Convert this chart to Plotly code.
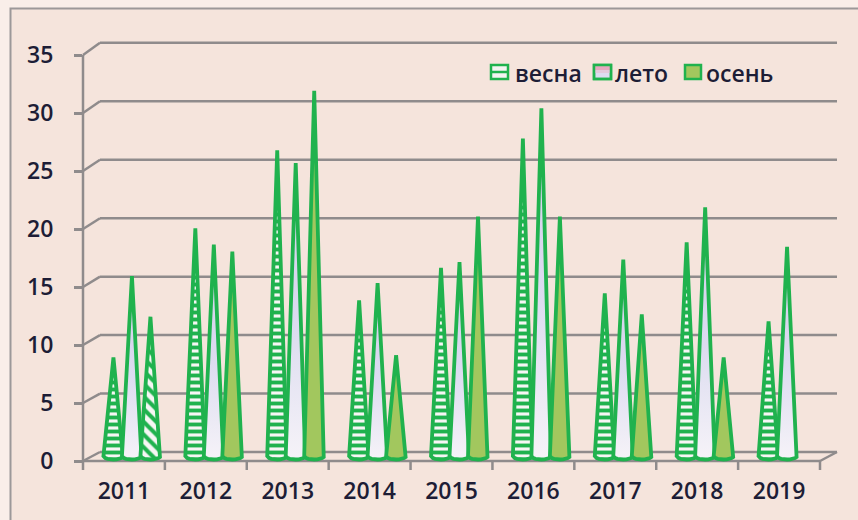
import numpy as np
import plotly.graph_objects as go

# ---- data ---------------------------------------------------------------
years = ["2011", "2012", "2013", "2014", "2015", "2016", "2017", "2018", "2019"]
vesna = [8.5, 19.6, 26.3, 13.4, 16.2, 27.3, 14.0, 18.4, 11.6]
leto = [15.5, 18.2, 25.2, 14.9, 16.7, 29.9, 16.9, 21.4, 18.0]
osen = [12.0, 17.6, 31.4, 8.7, 20.6, 20.6, 12.2, 8.5, None]
series_names = ["весна", "лето", "осень"]
y_ticks = [0, 5, 10, 15, 20, 25, 30, 35]

# ---- geometry of the pseudo-3D frame (pixels) ---------------------------
W, H = 858, 520
L, R, T, B = 83, 21, 43, 50
FX0, FY0 = 83, 461            # front-plane origin (x=0, y=0)
PX_CAT = (820 - 83) / 9       # pixels per category
PX_VAL = (461 - 55) / 35      # pixels per unit on the front plane
DEPTH_X = 17                  # back wall shift, px
BACK_Y0, BACK_PX_VAL = 452, 11.69

xr = [0, (W - R - L) / PX_CAT]
yr = [-(H - B - FY0) / PX_VAL, (FY0 - T) / PX_VAL]


def pxp(px):
    return (px - L) / (W - L - R)


def pyp(py):
    return (H - B - py) / (H - T - B)


def dx(x):
    return pxp(FX0 + x * PX_CAT)


def dy(v):
    return pyp(FY0 - v * PX_VAL)


GRID = "#8f8b8c"
GREEN = "#20b24e"
TEXT = "#1d1d36"
BG = "#f5e4dc"
FONT = "Open Sans"

shapes = []
# outer chart frame
shapes.append(dict(type="rect", xref="paper", yref="paper", layer="below",
                   x0=pxp(10.5), y0=pyp(600), x1=pxp(900), y1=pyp(8.5),
                   fillcolor=BG, line=dict(color="#9c9899", width=2)))


def seg(x0, y0, x1, y1, width=2.5, color=GRID):
    shapes.append(dict(type="line", xref="paper", yref="paper", layer="below",
                       x0=x0, y0=y0, x1=x1, y1=y1,
                       line=dict(color=color, width=width)))


# back wall gridlines and their left-hand connectors to the front axis
for v in y_ticks:
    by = pyp(BACK_Y0 - v * BACK_PX_VAL)
    seg(pxp(FX0 + DEPTH_X), by, pxp(W - R), by)
    seg(dx(0), dy(v), pxp(FX0 + DEPTH_X), by)

# front value axis, floor edge and category ticks
seg(dx(0), dy(0), dx(0), dy(35))
seg(dx(0), dy(0), dx(9), dy(0))
seg(dx(9), dy(0), pxp(FX0 + 9 * PX_CAT + DEPTH_X), pyp(BACK_Y0))
for i in range(10):
    seg(dx(i), pyp(FY0), dx(i), pyp(FY0 + 9))

# ---- cones --------------------------------------------------------------
OFFSET = 8 / PX_CAT           # clusters sit at mid depth
STEP = 18.5 / PX_CAT
HALF_W = 10 / PX_CAT
BASE_Y = (FY0 - 456) / PX_VAL
BOTTOM_Y = (FY0 - 459.5) / PX_VAL


def apex_y(v):
    mid_px = (FY0 - v * PX_VAL + BACK_Y0 - v * BACK_PX_VAL) / 2
    return (FY0 - mid_px) / PX_VAL


def cone_xy(xc, v):
    t = np.linspace(0, np.pi, 11)
    xs = [xc] + list(xc + HALF_W * np.cos(t)) + [xc]
    ys = [apex_y(v)] + list(BASE_Y - (BASE_Y - BOTTOM_Y) * np.sin(t)) + [apex_y(v)]
    return xs, ys


fig = go.Figure()
values = [vesna, leto, osen]
for k, vals in enumerate(values):
    for i, v in enumerate(vals):
        if v is None:
            continue
        xc = i + 0.5 + OFFSET + (k - 1) * STEP
        xs, ys = cone_xy(xc, v)
        common = dict(x=xs, y=ys, mode="lines", fill="toself",
                      line=dict(color=GREEN, width=3.8), hoverinfo="skip",
                      showlegend=False, name=series_names[k])
        if k == 0:
            fig.add_trace(go.Scatter(**common, fillcolor="#f6f6f4",
                                     fillpattern=dict(shape="-", fgcolor=GREEN,
                                                      bgcolor="#f6f6f4", fgopacity=1,
                                                      size=7, solidity=0.55)))
        elif k == 1:
            fig.add_trace(go.Scatter(**common,
                                     fillgradient=dict(type="vertical", colorscale=[
                                         [0, "#f6f3f8"], [0.45, "#dcdcf0"],
                                         [0.8, "#d6d2ec"], [1, "#e4aac2"]])))
        else:
            if i == 0:
                fig.add_trace(go.Scatter(**common, fillcolor="#f6f6f4",
                                         fillpattern=dict(shape="\\", fgcolor=GREEN,
                                                          bgcolor="#f6f6f4", fgopacity=1,
                                                          size=9, solidity=0.45)))
            else:
                fig.add_trace(go.Scatter(**common, fillcolor="#a2c75e"))

# ---- legend -------------------------------------------------------------
annotations = []


def legend_rect(x0, x1, y0, y1, fill, width=2.5, color=GREEN):
    shapes.append(dict(type="rect", xref="paper", yref="paper",
                       x0=pxp(x0), x1=pxp(x1), y0=pyp(y1), y1=pyp(y0),
                       fillcolor=fill, line=dict(color=color, width=width)))


legend_rect(491, 508, 65, 79, "#f4f4f2")
shapes.append(dict(type="line", xref="paper", yref="paper",
                   x0=pxp(491), x1=pxp(508), y0=pyp(72), y1=pyp(72),
                   line=dict(color=GREEN, width=2.5)))
legend_rect(594, 611, 65, 79, "#dcdcf0")
legend_rect(595, 610, 66, 70, "#e6a8bf", width=0)
legend_rect(595, 610, 70, 73, "#e2cadc", width=0)
legend_rect(594, 611, 65, 79, "rgba(0,0,0,0)")
legend_rect(685, 701, 65, 79, "#a2c75e")

for label, x in zip(series_names, [513, 613, 704]):
    annotations.append(dict(text=label, xref="paper", yref="paper",
                            x=pxp(x), y=pyp(73), xanchor="left", yanchor="middle",
                            showarrow=False,
                            font=dict(family=FONT, size=23, color=TEXT, weight=600)))

fig.update_layout(
    width=W, height=H,
    margin=dict(l=L, r=R, t=T, b=B, pad=0, autoexpand=False),
    paper_bgcolor="#f9eee9",
    plot_bgcolor="rgba(0,0,0,0)",
    shapes=shapes,
    annotations=annotations,
    showlegend=False,
    xaxis=dict(range=xr, tickvals=[i + 0.5 for i in range(len(years))],
               ticktext=years, ticks="", showgrid=False, zeroline=False,
               showline=False, ticklabelstandoff=5, automargin=False,
               tickfont=dict(family=FONT, size=23, color=TEXT, weight=600),
               fixedrange=True),
    yaxis=dict(range=yr, tickvals=y_ticks, ticktext=[str(v) for v in y_ticks],
               ticks="outside", ticklen=8, tickwidth=2.5, tickcolor=GRID,
               showgrid=False, zeroline=False, showline=False, automargin=False,
               ticklabelstandoff=16,
               tickfont=dict(family=FONT, size=23, color=TEXT, weight=600),
               fixedrange=True),
)

fig.write_html("out.html")
